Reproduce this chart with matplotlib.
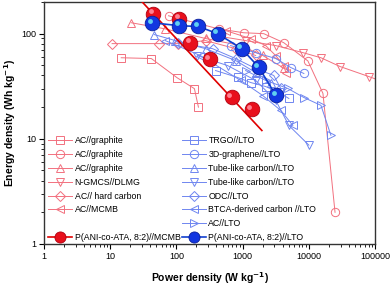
import matplotlib
matplotlib.use("Agg")
import matplotlib.pyplot as plt
import matplotlib.transforms as mtransforms
from matplotlib.ticker import FixedLocator, FuncFormatter, LogLocator, NullFormatter
from matplotlib.lines import Line2D
from matplotlib.legend_handler import HandlerTuple

plt.rcParams['font.family'] = ['Liberation Sans', 'DejaVu Sans']

# ---------------------
# Data (power W/kg, energy Wh/kg)
# ---------------------
# reference systems, carbon // graphite-type anodes (red, open markers)
ac_gr1_p = [14.7, 41.8, 103, 187, 215]
ac_gr1_e = [59, 58, 38, 30, 20]
ac_gr2_p = [76, 433, 1036, 2081, 4180, 9660, 16300, 24800]
ac_gr2_e = [148, 111, 102, 100, 82, 55, 27, 2.0]
ac_gr3_p = [20.8, 68, 275, 933, 2010, 4180]
ac_gr3_e = [127, 111, 90, 77, 62, 47]
ngmcs_p = [390, 1110, 3160, 8110, 15200, 29500, 81100, 130000]
ngmcs_e = [95.7, 85.9, 77, 66, 59, 48.7, 39, 35]
ac_hc_p = [10.7, 55, 107, 275, 783, 1573]
ac_hc_e = [80.4, 80.4, 80.4, 85.9, 72, 62]
ac_mcmb_p = [552, 1322, 2230, 3160, 4180, 4490]
ac_mcmb_e = [107, 89.7, 77, 61.8, 49.7, 42.7]

# reference systems, carbon // LTO (blue, open markers)
trgo_p = [390, 840, 1322, 2230, 3510, 4980]
trgo_e = [44.6, 38.3, 34.3, 31.4, 27.6, 24.2]
g3d_p = [658, 1573, 3160, 5337, 8400]
g3d_e = [77, 66, 58, 47.6, 41.8]
tube1_p = [46.4, 96.6, 275, 783, 1573, 2656]
tube1_e = [98, 85.9, 72, 55.5, 42.7, 34.3]
tube2_p = [208, 593, 1573, 3160, 4980, 10000]
tube2_e = [61.8, 49.7, 35.9, 23.2, 13.4, 8.7]
odc_p = [107, 351, 783, 1573, 2950, 3765]
odc_e = [82, 72, 58, 46.6, 40, 30.1]
btca_p = [68, 231, 933, 2010, 3765, 5720]
btca_e = [85.9, 61.8, 35.9, 25.8, 18.6, 13.4]
ac_lto_p = [1110, 2230, 4810, 8400, 15200, 21500]
ac_lto_e = [44.6, 35.9, 30.1, 24.7, 20.8, 10.8]

# this work
pani_mcmb_p = [45, 111, 163, 316, 681, 1368]
pani_mcmb_e = [155, 139, 82, 57, 25, 19]
pani_mcmb_fit_p = [28, 1950]
pani_mcmb_fit_e = [212, 12]
pani_lto_p = [43, 111, 215, 418, 966, 1747, 3162]
pani_lto_e = [127, 119, 117, 100, 72, 48, 26]

RED_OPEN = '#f2707e'
BLUE_OPEN = '#6f86f0'
RED_BALL = '#e8101c'
BLUE_BALL = '#1236e0'

fig = plt.figure(figsize=(3.92, 2.86), dpi=100)
ax = fig.add_axes([0.112, 0.147, 0.845, 0.846])

open_kw = dict(markerfacecolor='none', markeredgewidth=0.7, linewidth=0.7)

red_series = [
    (ac_gr1_p, ac_gr1_e, 's', 'AC//graphite'),
    (ac_gr2_p, ac_gr2_e, 'o', 'AC//graphite'),
    (ac_gr3_p, ac_gr3_e, '^', 'AC//graphite'),
    (ngmcs_p, ngmcs_e, 'v', 'N-GMCS//DLMG'),
    (ac_hc_p, ac_hc_e, 'D', 'AC// hard carbon'),
    (ac_mcmb_p, ac_mcmb_e, '<', 'AC//MCMB'),
]
blue_series = [
    (trgo_p, trgo_e, 's', 'TRGO//LTO'),
    (g3d_p, g3d_e, 'o', '3D-graphene//LTO'),
    (tube1_p, tube1_e, '^', 'Tube-like carbon//LTO'),
    (tube2_p, tube2_e, 'v', 'Tube-like carbon//LTO'),
    (odc_p, odc_e, 'D', 'ODC//LTO'),
    (btca_p, btca_e, '<', 'BTCA-derived carbon //LTO'),
    (ac_lto_p, ac_lto_e, '>', 'AC//LTO'),
]

red_handles = []
for p, e, m, lab in red_series:
    ms = 5.0 if m == 'D' else 6.0
    h, = ax.plot(p, e, marker=m, color=RED_OPEN, label=lab, markersize=ms, **open_kw)
    red_handles.append(h)
blue_handles = []
for p, e, m, lab in blue_series:
    ms = 5.0 if m == 'D' else 6.0
    h, = ax.plot(p, e, marker=m, color=BLUE_OPEN, label=lab, markersize=ms, **open_kw)
    blue_handles.append(h)

# highlight on the spheres, shifted up-left
shift = mtransforms.ScaledTranslation(-1.6 / 72, 1.6 / 72, fig.dpi_scale_trans)

ax.plot(pani_mcmb_fit_p, pani_mcmb_fit_e, color='#e00000', linewidth=1.2, zorder=4)
ax.plot(pani_mcmb_p, pani_mcmb_e, 'o', color=RED_BALL, markersize=10.5,
        markeredgecolor='#b00010', markeredgewidth=0.6, zorder=5)
ax.plot(pani_mcmb_p, pani_mcmb_e, 'o', color='#ff8090', markersize=3.5,
        markeredgewidth=0, zorder=6, transform=ax.transData + shift)

ax.plot(pani_lto_p, pani_lto_e, '-', color='#1040d0', linewidth=1.2, zorder=4)
ax.plot(pani_lto_p, pani_lto_e, 'o', color=BLUE_BALL, markersize=10.5,
        markeredgecolor='#0a1f9a', markeredgewidth=0.6, zorder=5)
ax.plot(pani_lto_p, pani_lto_e, 'o', color='#60d0f0', markersize=3.5,
        markeredgewidth=0, zorder=6, transform=ax.transData + shift)

ax.set_xscale('log')
ax.set_yscale('log')
ax.set_xlim(1, 100000)
ax.set_ylim(1, 200)

ax.xaxis.set_major_locator(FixedLocator([1, 10, 100, 1000, 10000, 100000]))
ax.yaxis.set_major_locator(FixedLocator([1, 10, 100]))
for axis in (ax.xaxis, ax.yaxis):
    axis.set_minor_locator(LogLocator(base=10, subs=range(2, 10), numticks=20))
    axis.set_minor_formatter(NullFormatter())
    axis.set_major_formatter(FuncFormatter(lambda v, pos: '%d' % v))
ax.tick_params(which='major', direction='out', length=3.5, width=0.8, labelsize=6.5, pad=2)
ax.tick_params(which='minor', direction='out', length=2, width=0.6)
for sp in ax.spines.values():
    sp.set_linewidth(1.0)
    sp.set_color('#333333')

ax.set_xlabel('Power density (W kg$^{\\mathbf{-1}}$)', fontsize=7.5, fontweight='bold', labelpad=7)
ax.set_ylabel('Energy density (Wh kg$^{\\mathbf{-1}}$)', fontsize=7.5, fontweight='bold', labelpad=2)

# legend: two columns, blank slot keeps the spheres on one row
blank = Line2D([], [], linestyle='none', marker='none')
red_leg = Line2D([], [], color='#e00000', linewidth=1.2, marker='o', markersize=8,
                 markerfacecolor=RED_BALL, markeredgecolor='#b00010', markeredgewidth=0.6)
blue_leg = Line2D([], [], color='#1040d0', linewidth=1.2, marker='o', markersize=8,
                  markerfacecolor=BLUE_BALL, markeredgecolor='#0a1f9a', markeredgewidth=0.6)
handles = red_handles + [blank, red_leg] + blue_handles + [blue_leg]
labels = [h.get_label() for h in red_handles] + ['', 'P(ANI-co-ATA, 8:2)//MCMB'] + \
         [h.get_label() for h in blue_handles] + ['P(ANI-co-ATA, 8:2)//LTO']
ax.legend(handles, labels, ncol=2, loc='lower left', bbox_to_anchor=(0.0, -0.01),
          frameon=False, fontsize=6.3, handlelength=2.7, handletextpad=0.3,
          labelspacing=0.55, columnspacing=0.2, borderaxespad=0.1,
          handler_map={tuple: HandlerTuple(ndivide=1)})

fig.savefig('out.png', dpi=100)
